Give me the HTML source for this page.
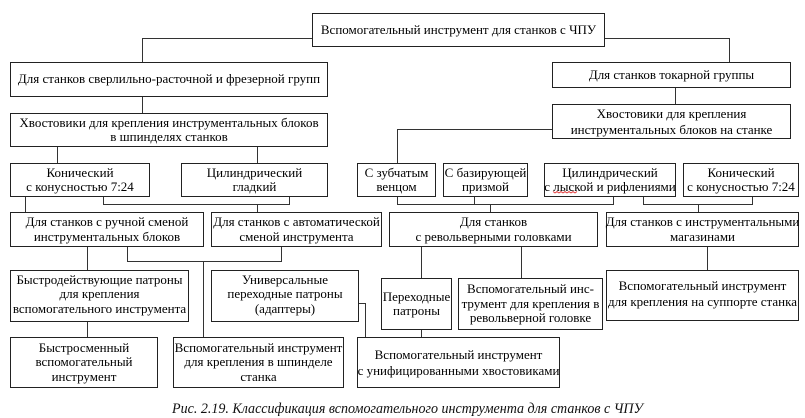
<!DOCTYPE html>
<html><head><meta charset="utf-8">
<style>
html,body{margin:0;padding:0;background:#fff;}
#c{position:relative;width:805px;height:418px;overflow:hidden;background:#fff;font-family:"Liberation Serif","Times New Roman",serif;font-size:13px;color:#000;}
.b{position:absolute;box-sizing:border-box;border:1px solid #222;display:flex;align-items:center;justify-content:center;text-align:center;line-height:14.5px;white-space:nowrap;background:#fff;}
svg{position:absolute;left:0;top:0;}
</style></head><body>
<div id="c">
<svg width="805" height="418" viewBox="0 0 805 418">
<g stroke="#333" stroke-width="1" fill="none">
<polyline points="312,38.5 142.5,38.5 142.5,62"/>
<polyline points="604,38.5 729.5,38.5 729.5,62"/>
<line x1="142.5" y1="96" x2="142.5" y2="113"/>
<line x1="675.5" y1="87" x2="675.5" y2="104"/>
<polyline points="552,129.5 397.5,129.5 397.5,163"/>
<line x1="57.5" y1="146" x2="57.5" y2="163"/>
<line x1="257.5" y1="146" x2="257.5" y2="163"/>
<line x1="25.5" y1="196" x2="25.5" y2="212"/>
<polyline points="103.5,196 103.5,204.5 289.5,204.5 289.5,196"/>
<line x1="257.5" y1="204" x2="257.5" y2="212"/>
<polyline points="397.5,196 397.5,204.5 613.5,204.5 613.5,196"/>
<line x1="474.5" y1="196" x2="474.5" y2="204"/>
<line x1="490.5" y1="204" x2="490.5" y2="212"/>
<polyline points="643.5,196 643.5,204.5 752.5,204.5 752.5,196"/>
<line x1="698.5" y1="204" x2="698.5" y2="212"/>
<line x1="87.5" y1="246" x2="87.5" y2="270"/>
<polyline points="127.5,246 127.5,261.5 281.5,261.5 281.5,246"/>
<line x1="203.5" y1="261" x2="203.5" y2="337"/>
<line x1="87.5" y1="321" x2="87.5" y2="337"/>
<polyline points="358,303.5 365.5,303.5 365.5,337"/>
<line x1="421.5" y1="246" x2="421.5" y2="278"/>
<line x1="521.5" y1="246" x2="521.5" y2="278"/>
<line x1="707.5" y1="246" x2="707.5" y2="270"/>
<line x1="421.5" y1="329" x2="421.5" y2="337"/>
</g>
<text x="172" y="413" font-family="Liberation Serif, serif" font-style="italic" font-size="15" textLength="471" lengthAdjust="spacingAndGlyphs" fill="#111">Рис. 2.19. Классификация вспомогательного инструмента для станков с ЧПУ</text>
</svg>

<div class="b" style="left:312px;top:13px;width:293px;height:34px;">Вспомогательный инструмент для станков с ЧПУ</div>
<div class="b" style="left:10px;top:62px;width:318px;height:35px;">Для станков сверлильно-расточной и фрезерной групп</div>
<div class="b" style="left:552px;top:62px;width:239px;height:26px;">Для станков токарной группы</div>
<div class="b" style="left:10px;top:113px;width:318px;height:34px;">Хвостовики для крепления инструментальных блоков<br>в шпинделях станков</div>
<div class="b" style="left:552px;top:104px;width:239px;height:35px;line-height:15.5px;">Хвостовики для крепления<br>инструментальных блоков на станке</div>

<div class="b" style="left:10px;top:163px;width:140px;height:34px;">Конический<br>с конусностью 7:24</div>
<div class="b" style="left:181px;top:163px;width:147px;height:34px;">Цилиндрический<br>гладкий</div>
<div class="b" style="left:357px;top:163px;width:79px;height:34px;">С зубчатым<br>венцом</div>
<div class="b" style="left:443px;top:163px;width:85px;height:34px;">С базирующей<br>призмой</div>
<div class="b" style="left:544px;top:163px;width:132px;height:34px;">Цилиндрический<br>с лыской и рифлениями</div>
<div class="b" style="left:683px;top:163px;width:116px;height:34px;">Конический<br>с конусностью 7:24</div>

<div class="b" style="left:10px;top:212px;width:194px;height:35px;">Для станков с ручной сменой<br>инструментальных блоков</div>
<div class="b" style="left:211px;top:212px;width:171px;height:35px;">Для станков с автоматической<br>сменой инструмента</div>
<div class="b" style="left:389px;top:212px;width:209px;height:35px;">Для станков<br>с револьверными головками</div>
<div class="b" style="left:606px;top:212px;width:193px;height:35px;">Для станков с инструментальными<br>магазинами</div>

<div class="b" style="left:10px;top:270px;width:179px;height:52px;padding-bottom:3px;">Быстродействующие патроны<br>для крепления<br>вспомогательного инструмента</div>
<div class="b" style="left:211px;top:270px;width:148px;height:52px;padding-bottom:3px;">Универсальные<br>переходные патроны<br>(адаптеры)</div>
<div class="b" style="left:381px;top:278px;width:71px;height:52px;">Переходные<br>патроны</div>
<div class="b" style="left:458px;top:278px;width:145px;height:52px;">Вспомогательный инс-<br>трумент для крепления в<br>револьверной головке</div>
<div class="b" style="left:606px;top:270px;width:193px;height:51px;padding-bottom:4px;line-height:15.5px;">Вспомогательный инструмент<br>для крепления на суппорте станка</div>

<div class="b" style="left:10px;top:337px;width:148px;height:51px;">Быстросменный<br>вспомогательный<br>инструмент</div>
<div class="b" style="left:173px;top:337px;width:171px;height:51px;">Вспомогательный инструмент<br>для крепления в шпинделе<br>станка</div>
<div class="b" style="left:357px;top:337px;width:203px;height:51px;line-height:15.5px;">Вспомогательный инструмент<br>с унифицированными хвостовиками</div>

<svg width="805" height="418" viewBox="0 0 805 418" style="pointer-events:none">
<path d="M553,191.5 l2,1.5 l2,-1.5 l2,1.5 l2,-1.5 l2,1.5 l2,-1.5 l2,1.5 l2,-1.5 l2,1.5 l2,-1.5 l2,1.5 l2,-1.5" stroke="#e03030" stroke-width="0.8" fill="none"/>
</svg>
</div>
</body></html>
